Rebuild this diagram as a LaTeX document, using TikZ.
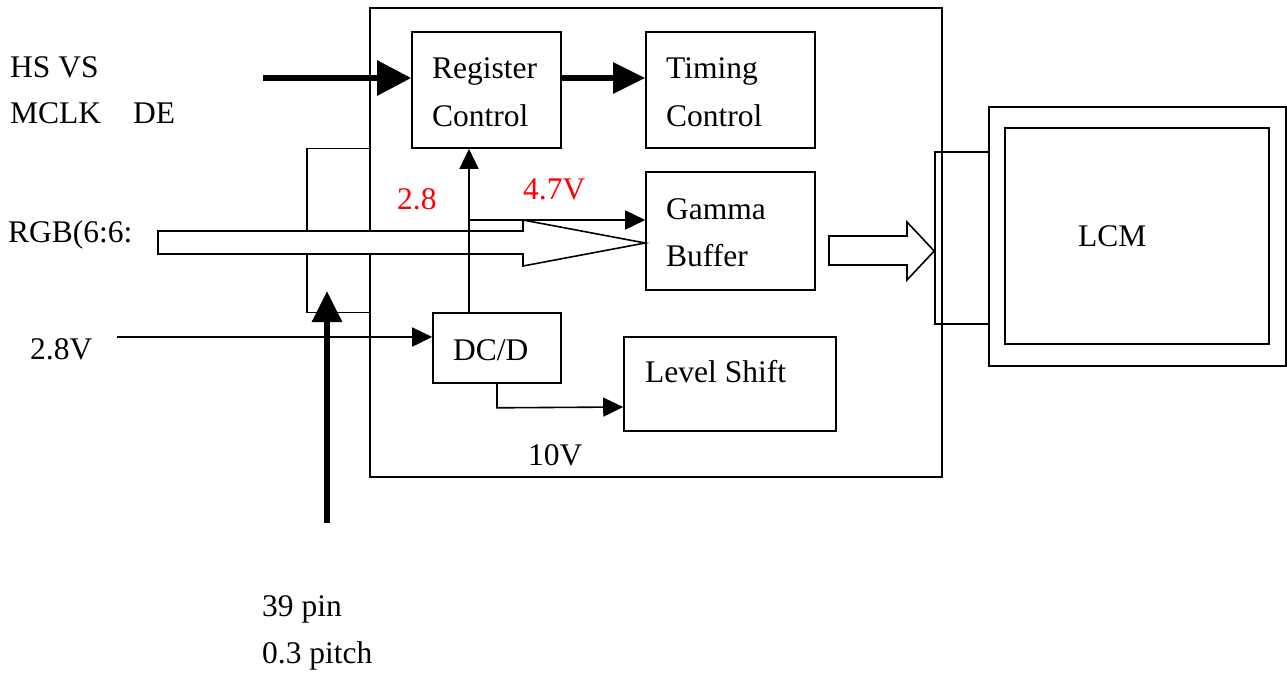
\documentclass[tikz,border=0pt]{standalone}
\usepackage{fontspec}
\setmainfont{Liberation Serif}
\usetikzlibrary{arrows.meta}
\begin{document}
\begin{tikzpicture}[x=1pt,y=-1pt,
  font=\fontsize{31.5}{40}\selectfont,
  box/.style={draw,line width=1.6pt,rectangle,inner sep=0pt},
  lbl/.style={anchor=base west,inner sep=0pt},
  redlbl/.style={lbl,text=red},
  thin/.style={line width=1.6pt,-{Triangle[length=20pt,width=19pt]}},
  thick/.style={line width=6pt,-{Triangle[length=34pt,width=34pt]}},
  outarrow/.style={draw,line width=1.6pt,fill=white,line join=miter}]
\useasboundingbox (0,0) rectangle (1287,673);
% main outline and plates
\node[box,minimum width=572pt,minimum height=469pt] (main) at (656,242.5) {};
\node[box,minimum width=63pt,minimum height=164pt] (plate) at (338.5,230.5) {};
% blocks
\node[box,minimum width=149pt,minimum height=116pt] (reg) at (486.5,90) {};
\node[box,minimum width=169pt,minimum height=116pt] (tim) at (730.5,90) {};
\node[box,minimum width=169pt,minimum height=118pt] (gam) at (730.5,231) {};
\node[box,minimum width=128pt,minimum height=70pt] (dcd) at (497,348) {};
\node[box,minimum width=212pt,minimum height=94pt] (lvl) at (730,384) {};
\node[box,minimum width=54pt,minimum height=172pt] (lplate) at (962,238) {};
\node[box,minimum width=297pt,minimum height=259pt] (lcmo) at (1137.5,236.5) {};
\node[box,minimum width=264pt,minimum height=216pt] (lcmi) at (1137,236) {};
% labels
\node[lbl] (t1) at (10,77) {HS VS};
\node[lbl] (t2) at (10,123) {MCLK\hspace*{32pt}DE};
\node[lbl] (t3) at (8,242) {RGB(6:6:};
\node[lbl] (t4) at (30,359) {2.8V};
\node[lbl] (t5) at (262,616) {39 pin};
\node[lbl] (t6) at (262,663) {0.3 pitch};
\node[lbl] (reg1) at (432,78) {Register};
\node[lbl] (reg2) at (432,126) {Control};
\node[lbl] (tim1) at (666,78) {Timing};
\node[lbl] (tim2) at (666,126) {Control};
\node[lbl] (gam1) at (666,219) {Gamma};
\node[lbl] (gam2) at (666,266) {Buffer};
\node[lbl] (dcd1) at (453,360) {DC/D};
\node[lbl] (lvl1) at (645,382) {Level Shift};
\node[lbl] (v10) at (528,465) {10V};
\node[lbl] (lcm1) at (1078,246) {LCM};
\node[redlbl] (r28) at (397,209) {2.8};
\node[redlbl] (r47) at (523,199) {4.7V};
% coordinates
\coordinate (hsin) at (263,78);
\coordinate (v28in) at (117,337);
\coordinate (pinin) at (327,523);
\coordinate (pintip) at (327,291);
\coordinate (split) at (469,220);
% RGB hollow arrow
\draw[outarrow] (158,231) -- (523,231) -- (523,220) -- (gam.west |- 0,243)
  -- (523,266) -- (523,254) -- (158,254) -- cycle;
% connectors
\draw[thick] (hsin) -- (hsin -| reg.west);
\draw[thick,-{Triangle[length=32pt,width=30pt]}] (reg.east |- hsin) -- (tim.west |- hsin);
\draw[thin] (dcd.north -| split) -- (reg.south -| split);
\draw[thin] (split) -- (split -| gam.west);
\draw[thin] (v28in) -- (v28in -| dcd.west);
\draw[thin] (dcd.south) -- ++(0,24) -- (lvl.west |- 0,407);
\draw[thick,-{Triangle[length=31pt,width=29pt]}] (pinin) -- (pintip);
% Gamma to LCM hollow arrow
\draw[outarrow] (829,236) -- (907,236) -- (907,222) -- (lplate.west |- 0,251)
  -- (907,280) -- (907,265) -- (829,265) -- cycle;
\end{tikzpicture}
\end{document}
